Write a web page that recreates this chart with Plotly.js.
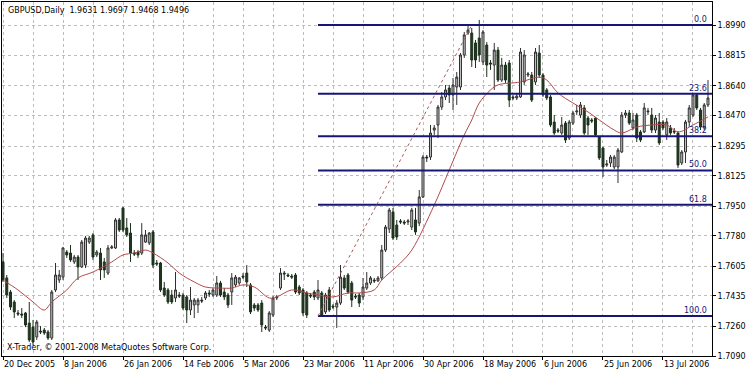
<!DOCTYPE html>
<html><head><meta charset="utf-8">
<script src="https://cdn.plot.ly/plotly-3.0.1.min.js"></script>
<style>html,body{margin:0;padding:0;background:#fff}#chart{width:750px;height:375px}</style>
</head><body><div id="chart"></div>
<script>
// ---- data ----
const dateLabels = ['20 Dec 2005','8 Jan 2006','26 Jan 2006','14 Feb 2006','5 Mar 2006','23 Mar 2006','11 Apr 2006','30 Apr 2006','18 May 2006','6 Jun 2006','25 Jun 2006','13 Jul 2006'];
const labelBars = [0,16,32,48,64,80,96,112,128,144,160,176];
const priceTicks = [1.8990,1.8815,1.8640,1.8470,1.8295,1.8125,1.7950,1.7780,1.7605,1.7435,1.7260,1.7090];

const open = [1.7630,1.7538,1.7457,1.7400,1.7337,1.7331,1.7337,1.7279,1.7256,1.7199,1.7233,1.7239,1.7228,1.7193,1.7469,1.7526,1.7543,1.7687,1.7681,1.7630,
1.7658,1.7601,1.7612,1.7744,1.7785,1.7670,1.7681,1.7630,1.7566,1.7710,1.7710,1.7871,1.7940,1.7825,1.7796,1.7681,1.7687,1.7681,1.7744,1.7739,
1.7802,1.7624,1.7624,1.7480,1.7469,1.7440,1.7423,1.7440,1.7440,1.7429,1.7354,1.7383,1.7383,1.7411,1.7423,1.7452,1.7440,1.7440,1.7509,1.7457,
1.7440,1.7457,1.7498,1.7509,1.7549,1.7566,1.7498,1.7383,1.7383,1.7394,1.7256,1.7239,1.7325,1.7423,1.7480,1.7566,1.7555,1.7549,1.7555,1.7486,
1.7469,1.7452,1.7440,1.7457,1.7423,1.7452,1.7343,1.7469,1.7377,1.7371,1.7394,1.7538,1.7555,1.7509,1.7434,1.7440,1.7429,1.7480,1.7509,1.7526,
1.7521,1.7538,1.7698,1.7819,1.7917,1.7842,1.7865,1.7859,1.7859,1.7830,1.7871,1.7853,1.8003,1.8232,1.8232,1.8387,1.8416,1.8519,1.8577,1.8628,
1.8588,1.8634,1.8634,1.8818,1.8944,1.8944,1.8887,1.8915,1.8778,1.8875,1.8772,1.8760,1.8846,1.8674,1.8760,1.8772,1.8577,1.8571,1.8577,1.8663,
1.8703,1.8703,1.8663,1.8829,1.8703,1.8617,1.8577,1.8433,1.8387,1.8370,1.8427,1.8341,1.8427,1.8491,1.8473,1.8514,1.8456,1.8445,1.8456,1.8347,
1.8284,1.8186,1.8198,1.8175,1.8175,1.8261,1.8473,1.8485,1.8399,1.8473,1.8376,1.8376,1.8491,1.8473,1.8387,1.8433,1.8433,1.8359,1.8399,1.8381,
1.8370,1.8198,1.8261,1.8433,1.8473,1.8588,1.8502,1.8399,1.8531];
const high = [1.7681,1.7555,1.7469,1.7411,1.7354,1.7365,1.7343,1.7400,1.7297,1.7297,1.7262,1.7251,1.7239,1.7469,1.7624,1.7584,1.7716,1.7698,1.7727,1.7670,
1.7670,1.7756,1.7779,1.7779,1.7796,1.7698,1.7710,1.7653,1.7727,1.7727,1.7882,1.7882,1.7945,1.7882,1.7853,1.7698,1.7698,1.7853,1.7813,1.7802,
1.7813,1.7641,1.7630,1.7515,1.7480,1.7469,1.7572,1.7457,1.7452,1.7440,1.7486,1.7423,1.7423,1.7429,1.7463,1.7469,1.7480,1.7549,1.7521,1.7480,
1.7452,1.7566,1.7555,1.7543,1.7566,1.7612,1.7509,1.7394,1.7394,1.7411,1.7268,1.7348,1.7434,1.7440,1.7595,1.7578,1.7566,1.7561,1.7566,1.7498,
1.7480,1.7463,1.7452,1.7469,1.7526,1.7463,1.7452,1.7486,1.7388,1.7411,1.7612,1.7555,1.7566,1.7521,1.7446,1.7452,1.7538,1.7572,1.7549,1.7538,
1.7549,1.7727,1.7842,1.7940,1.7940,1.7871,1.7876,1.7871,1.7876,1.7940,1.7940,1.8043,1.8244,1.8244,1.8416,1.8416,1.8531,1.8605,1.8646,1.8646,
1.8686,1.8720,1.8829,1.8950,1.8990,1.8973,1.8904,1.9019,1.8961,1.8892,1.8789,1.8887,1.8864,1.8801,1.8778,1.8789,1.8588,1.8600,1.8858,1.8846,
1.8720,1.8720,1.8858,1.8875,1.8714,1.8628,1.8588,1.8473,1.8399,1.8462,1.8439,1.8445,1.8496,1.8531,1.8548,1.8531,1.8468,1.8456,1.8462,1.8353,
1.8290,1.8215,1.8244,1.8244,1.8284,1.8491,1.8502,1.8502,1.8485,1.8485,1.8387,1.8542,1.8514,1.8514,1.8473,1.8485,1.8445,1.8456,1.8416,1.8399,
1.8381,1.8272,1.8445,1.8531,1.8600,1.8600,1.8514,1.8542,1.8674];
const low = [1.7515,1.7423,1.7354,1.7308,1.7320,1.7308,1.7256,1.7170,1.7153,1.7182,1.7216,1.7211,1.7182,1.7182,1.7457,1.7509,1.7526,1.7653,1.7630,1.7618,
1.7526,1.7595,1.7595,1.7733,1.7641,1.7658,1.7526,1.7538,1.7555,1.7704,1.7704,1.7802,1.7802,1.7773,1.7630,1.7664,1.7653,1.7670,1.7739,1.7727,
1.7595,1.7607,1.7457,1.7429,1.7388,1.7388,1.7400,1.7423,1.7354,1.7279,1.7325,1.7308,1.7337,1.7394,1.7411,1.7429,1.7429,1.7429,1.7429,1.7411,
1.7365,1.7383,1.7486,1.7498,1.7532,1.7486,1.7331,1.7348,1.7343,1.7228,1.7239,1.7228,1.7314,1.7411,1.7469,1.7526,1.7543,1.7532,1.7446,1.7440,
1.7320,1.7308,1.7423,1.7411,1.7411,1.7320,1.7331,1.7343,1.7360,1.7251,1.7383,1.7469,1.7446,1.7371,1.7417,1.7371,1.7411,1.7469,1.7498,1.7509,
1.7515,1.7526,1.7687,1.7796,1.7756,1.7756,1.7848,1.7842,1.7842,1.7813,1.7785,1.7836,1.7997,1.8204,1.8215,1.8359,1.8341,1.8502,1.8559,1.8542,
1.8502,1.8531,1.8617,1.8801,1.8933,1.8749,1.8743,1.8778,1.8760,1.8691,1.8732,1.8617,1.8663,1.8663,1.8657,1.8519,1.8559,1.8559,1.8571,1.8646,
1.8691,1.8548,1.8646,1.8686,1.8577,1.8559,1.8404,1.8359,1.8370,1.8359,1.8313,1.8330,1.8416,1.8473,1.8456,1.8359,1.8359,1.8427,1.8347,1.8215,
1.8117,1.8175,1.8175,1.8163,1.8083,1.8255,1.8456,1.8416,1.8387,1.8318,1.8318,1.8370,1.8473,1.8370,1.8370,1.8301,1.8387,1.8330,1.8359,1.8364,
1.8169,1.8186,1.8198,1.8404,1.8462,1.8502,1.8387,1.8387,1.8519];
const close = [1.7526,1.7440,1.7371,1.7343,1.7331,1.7325,1.7268,1.7182,1.7170,1.7285,1.7228,1.7222,1.7193,1.7457,1.7555,1.7555,1.7710,1.7670,1.7641,1.7658,
1.7601,1.7744,1.7767,1.7767,1.7658,1.7687,1.7584,1.7584,1.7710,1.7716,1.7871,1.7813,1.7813,1.7785,1.7681,1.7675,1.7670,1.7785,1.7785,1.7796,
1.7612,1.7618,1.7469,1.7440,1.7400,1.7400,1.7469,1.7434,1.7365,1.7354,1.7411,1.7411,1.7411,1.7406,1.7452,1.7446,1.7469,1.7509,1.7440,1.7429,
1.7383,1.7538,1.7543,1.7538,1.7543,1.7515,1.7343,1.7365,1.7354,1.7268,1.7251,1.7337,1.7423,1.7429,1.7566,1.7561,1.7549,1.7543,1.7457,1.7452,
1.7337,1.7325,1.7434,1.7429,1.7469,1.7325,1.7440,1.7354,1.7371,1.7394,1.7543,1.7480,1.7457,1.7411,1.7429,1.7394,1.7486,1.7509,1.7538,1.7521,
1.7538,1.7698,1.7830,1.7928,1.7767,1.7773,1.7859,1.7853,1.7865,1.7928,1.7802,1.8003,1.8232,1.8227,1.8370,1.8399,1.8519,1.8577,1.8617,1.8588,
1.8646,1.8691,1.8818,1.8933,1.8961,1.8789,1.8789,1.8818,1.8950,1.8760,1.8766,1.8846,1.8674,1.8760,1.8674,1.8559,1.8571,1.8582,1.8835,1.8818,
1.8709,1.8559,1.8835,1.8703,1.8588,1.8571,1.8416,1.8370,1.8381,1.8416,1.8330,1.8433,1.8485,1.8496,1.8531,1.8370,1.8416,1.8439,1.8359,1.8227,
1.8175,1.8192,1.8232,1.8232,1.8272,1.8473,1.8485,1.8427,1.8445,1.8341,1.8330,1.8514,1.8496,1.8387,1.8456,1.8313,1.8399,1.8433,1.8370,1.8376,
1.8186,1.8261,1.8433,1.8514,1.8588,1.8514,1.8404,1.8531,1.8571];

// moving average, read at selected bars
const maBar = [0,4,8,11,13,17,20,24,29,32,35,38,40,44,47,51,54,58,61,64,67,71,73,77,81,84,88,92,95,99,101,106,109,115,119,123,125,127,130,132,138,143,145,148,152,156,159,163,165,169,173,177,180,184,188];
const maVal = [1.7526,1.7469,1.7400,1.7354,1.7400,1.7469,1.7538,1.7572,1.7630,1.7670,1.7681,1.7698,1.7681,1.7624,1.7566,1.7515,1.7486,1.7480,1.7480,1.7498,1.7486,1.7423,1.7429,1.7469,1.7452,1.7440,1.7429,1.7452,1.7452,1.7469,1.7526,1.7624,1.7698,1.7957,1.8158,1.8359,1.8445,1.8542,1.8617,1.8646,1.8663,1.8691,1.8674,1.8600,1.8542,1.8491,1.8445,1.8387,1.8370,1.8404,1.8416,1.8416,1.8376,1.8416,1.8462];

// Fibonacci retracement
const fibHigh = 1.8990, fibLow = 1.7320;
const fibStartBar = 84, fibEndBar = 125;
const fibLevels = [0.0, 23.6, 38.2, 50.0, 61.8, 100.0];
const fibLabels = ['0.0','23.6','38.2','50.0','61.8','100.0'];

const titleText = 'GBPUSD,Daily  1.9631 1.9697 1.9468 1.9496';
const footerText = 'X-Trader, \u00a9 2001-2008 MetaQuotes Software Corp.';

// ---- drawing ----
const bars = open.map((_, i) => i);
const xRange = [-0.27, 189.07];
const yRange = [1.7090, 1.9122];
const font = {family: 'DejaVu Sans, Verdana, sans-serif', size: 8, color: '#000'};
const gridStyle = {gridcolor: '#bdbdbd', griddash: '3px,3px', gridwidth: 1};
const fibColor = '#16167a';

const traces = [
  {type: 'candlestick', x: bars, open: open, high: high, low: low, close: close,
   increasing: {line: {color: '#303030', width: 1}, fillcolor: '#c4c4c4'},
   decreasing: {line: {color: '#1d301d', width: 1}, fillcolor: '#22381f'},
   whiskerwidth: 0, hoverinfo: 'skip', showlegend: false},
  {type: 'scatter', mode: 'lines', x: maBar, y: maVal,
   line: {color: '#b24a4a', width: 1, shape: 'spline', smoothing: 1}, hoverinfo: 'skip', showlegend: false}
];

const shapes = [];
const annotations = [];
fibLevels.forEach((lv, k) => {
  const p = fibHigh - lv / 100 * (fibHigh - fibLow);
  shapes.push({type: 'line', xref: 'x', yref: 'y', x0: fibStartBar, x1: xRange[1], y0: p, y1: p,
               line: {color: fibColor, width: 2}});
  annotations.push({xref: 'paper', yref: 'y', x: 0.996, y: p, xanchor: 'right', yanchor: 'bottom',
                    text: fibLabels[k], showarrow: false, font: {family: font.family, size: 8, color: fibColor}, yshift: -1});
});
shapes.push({type: 'line', xref: 'x', yref: 'y', x0: fibStartBar, y0: fibLow, x1: fibEndBar, y1: fibHigh,
             line: {color: '#a85a5a', width: 1, dash: '3px,3px'}});
annotations.push({xref: 'paper', yref: 'paper', x: 0.005, y: 0.993, xanchor: 'left', yanchor: 'top',
                  text: titleText, showarrow: false, font: font});
annotations.push({xref: 'paper', yref: 'paper', x: 0.004, y: 0.005, xanchor: 'left', yanchor: 'bottom',
                  text: footerText, showarrow: false, font: font});

const layout = {
  width: 750, height: 375,
  margin: {l: 2, r: 38, t: 2, b: 19},
  paper_bgcolor: '#fff', plot_bgcolor: '#fff',
  showlegend: false, boxgap: 0.25,
  font: font,
  xaxis: Object.assign({range: xRange, tickmode: 'array', tickvals: labelBars, ticktext: dateLabels,
    ticks: 'outside', ticklen: 3, tickcolor: '#000', ticklabelposition: 'outside right',
    showline: true, linecolor: '#000', mirror: true, zeroline: false, showgrid: true,
    rangeslider: {visible: false}, fixedrange: true, tickfont: font,
    minor: {dtick: 8, tick0: 0, showgrid: true, gridcolor: '#bdbdbd', griddash: '3px,3px', ticks: ''}}, gridStyle),
  yaxis: Object.assign({range: yRange, side: 'right', tickmode: 'array', tickvals: priceTicks,
    ticktext: priceTicks.map(v => v.toFixed(4)), ticks: 'outside', ticklen: 3, tickcolor: '#000',
    showline: true, linecolor: '#000', mirror: true, zeroline: false, showgrid: true, fixedrange: true,
    tickfont: font}, gridStyle),
  shapes: shapes, annotations: annotations
};
Plotly.newPlot('chart', traces, layout, {staticPlot: true, displayModeBar: false});
</script></body></html>
